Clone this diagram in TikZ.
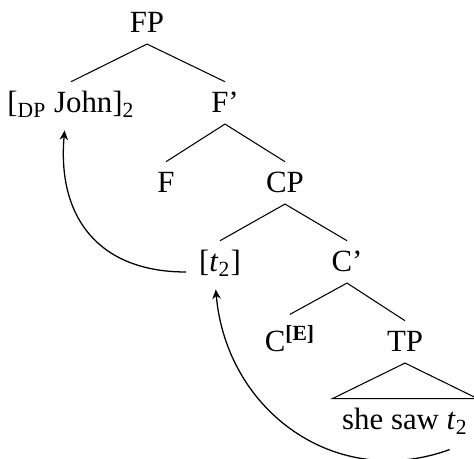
\documentclass[tikz,border=0pt]{standalone}
\usepackage{fontspec}
\setmainfont{Liberation Serif}
\usetikzlibrary{arrows.meta}

\begin{document}
\begin{tikzpicture}[
  x=0.47pt,
  y=-0.47pt,
  font=\fontsize{14.5}{17}\selectfont,
  cat/.style={
    anchor=base,
    inner xsep=2pt,
    inner ysep=0pt,
    text height=14.5pt,
    text depth=5pt,
  },
  roof/.style={
    cat,
    minimum width=68pt,
  },
  branch/.style={
    draw=black,
    line width=0.5pt,
  },
  move/.style={
    draw=black,
    line width=0.6pt,
    -{Stealth[length=4.5pt,width=4pt]},
  }
]
  \useasboundingbox (0,0) rectangle (474,459);

  % FP
  \node[cat] (fp) at (147,33) {FP};
  \node[cat] (john) at (71,113) {[\textsubscript{DP} John]\textsubscript{2}};
  \node[cat] (fbar) at (225,113) {F'};
  \draw[branch] (fp.south) -- (john.north);
  \draw[branch] (fp.south) -- (fbar.north);

  % F'
  \node[cat] (f) at (166,193) {F};
  \node[cat] (cp) at (285,193) {CP};
  \draw[branch] (fbar.south) -- (f.north);
  \draw[branch] (fbar.south) -- (cp.north);

  % CP
  \node[cat] (trace) at (220,272) {[\textit{t}\textsubscript{2}]};
  \node[cat] (cbar) at (347,272) {C'};
  \draw[branch] (cp.south) -- (trace.north);
  \draw[branch] (cp.south) -- (cbar.north);

  % C'
  \node[cat, text height=17.5pt] (c) at (290,352) {C\textsuperscript{\textbf{[E]}}};
  \node[cat] (tp) at (405,352) {TP};
  \draw[branch] (cbar.south) -- (c.north);
  \draw[branch] (cbar.south) -- (tp.north);

  % TP
  \node[roof] (she) at (405,430) {she saw \textit{t}\textsubscript{2}};
  \draw[branch] (tp.south) -- (she.north west) -- (she.north east) -- cycle;

  % movement
  \draw[move] ([xshift=-4pt]trace.base west) to[out=180, in=-95, looseness=1.2] ([xshift=-3pt,yshift=-3pt]john.south);
  \draw[move] ([xshift=21pt,yshift=-4pt]she.south) to[out=-160, in=-85, looseness=1.1] ([xshift=-2pt,yshift=-3pt]trace.south);

\end{tikzpicture}
\end{document}
